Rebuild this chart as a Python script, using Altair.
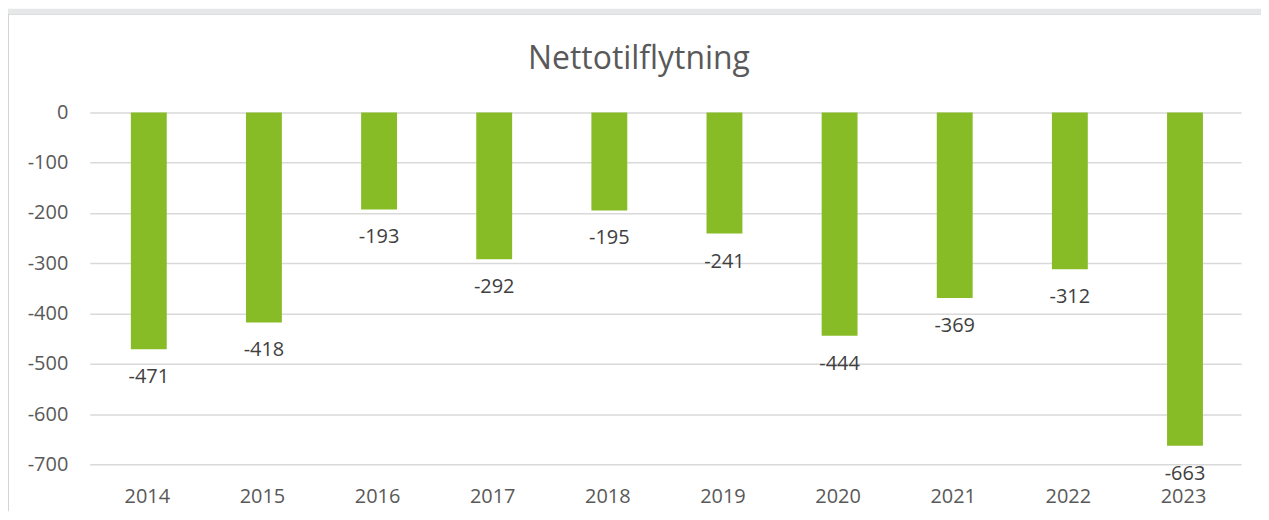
import altair as alt
import pandas as pd

years = ["2014", "2015", "2016", "2017", "2018", "2019", "2020", "2021", "2022", "2023"]
values = [-471, -418, -193, -292, -195, -241, -444, -369, -312, -663]
title_text = "Nettotilflytning"

df = pd.DataFrame({"year": years, "value": values})

W, H = 1155, 353
FONT = "Open Sans"

x_enc = alt.X("year:N", sort=years, title=None,
              scale=alt.Scale(paddingInner=0, paddingOuter=0),
              axis=alt.Axis(labelAngle=0, labelFontSize=20, labelColor="#595959",
                            labelFont=FONT, domain=False, ticks=False, tickSize=0,
                            labelPadding=22, grid=False))
y_enc = alt.Y("value:Q", title=None,
              scale=alt.Scale(domain=[-700, 0], nice=False, zero=True),
              axis=alt.Axis(values=list(range(-700, 1, 100)), labelFontSize=20,
                            labelColor="#595959", labelFont=FONT, domain=False,
                            ticks=False, tickSize=0, labelPadding=22,
                            labelExpr="toString(datum.value)",
                            grid=True, gridColor="#d9d9d9", gridWidth=1.5))

top_strip = alt.Chart(alt.Data(values=[{}])).mark_rect(color="#e6e7e9").encode(
    x=alt.value(-82), x2=alt.value(W + 20),
    y=alt.value(-104), y2=alt.value(-99)
)
left_edge = alt.Chart(alt.Data(values=[{}])).mark_rule(color="#d4d4d4", strokeWidth=1).encode(
    x=alt.value(-81.5), y=alt.value(-99), y2=alt.value(H + 47)
)
top_edge = alt.Chart(alt.Data(values=[{}])).mark_rule(color="#d4d4d4", strokeWidth=1).encode(
    x=alt.value(-82), x2=alt.value(W + 20), y=alt.value(-98.5)
)

bars = alt.Chart(df).mark_bar(size=36, color="#88bc27", xOffset=1.5).encode(x=x_enc, y=y_enc)

labels = alt.Chart(df).transform_calculate(
    lbl="toString(datum.value)"
).mark_text(
    baseline="middle", align="center", dy=28, dx=1.5, fontSize=20, font=FONT, color="#404040"
).encode(x=alt.X("year:N", sort=years), y="value:Q", text="lbl:N")

title = alt.Chart(alt.Data(values=[{}])).mark_text(
    text=title_text, fontSize=32, font=FONT, color="#595959",
    align="center", baseline="middle"
).encode(x=alt.value(551), y=alt.value(-54))

chart = alt.layer(bars, labels, title, top_strip, left_edge, top_edge).properties(
    width=W, height=H,
    background="white",
    padding={"left": 82, "top": 104, "right": 20, "bottom": 47},
    autosize=alt.AutoSizeParams(type="none"),
).configure_view(stroke=None)

chart.save("out.html", embed_options={"renderer": "svg", "actions": False})
